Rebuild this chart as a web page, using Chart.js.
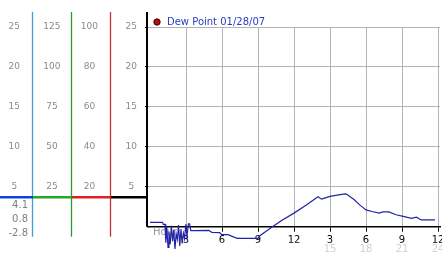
<!DOCTYPE html>
<html>
<head>
<meta charset="utf-8">
<script src="https://cdn.jsdelivr.net/npm/chart.js@4/dist/chart.umd.min.js"></script>
<style>
html, body { margin: 0; padding: 0; background: #fff; }
#wrap { width: 442px; height: 253px; }
</style>
</head>
<body>
<div id="wrap"><canvas id="chart1"></canvas></div>
<script>
"use strict"

// dew point trace: hour of the day -> degrees
const seriesLabel = 'Dew Point 01/28/07'
const hours = [0, 1.05, 1.1, 1.25, 1.32, 1.4, 1.5, 1.58, 1.68, 1.78, 1.88, 1.98, 2.08, 2.18, 2.28,
    2.38, 2.48, 2.58, 2.68, 2.78, 2.88, 2.98, 3.08, 3.2, 3.3, 3.4, 3.6, 4.9, 5.15, 5.8, 6.0, 6.5,
    7.0, 7.3, 9.0, 9.1, 10.2, 11, 12, 13, 14, 14.3, 15, 15.6, 16.25, 16.4, 17.0, 17.5, 18.0, 18.5,
    19.1, 19.4, 19.9, 20.5, 21.1, 21.8, 22.2, 22.6, 23.75]
const dewPoint = [0.55, 0.55, 0.3, 0.3, -2.0, 0.0, -2.6, -0.6, -2.2, 0.1, -1.8, -0.4, -2.8, -0.9, -1.6,
    0.2, -2.4, -0.3, -2.1, -0.8, -1.5, 0.3, -1.2, 0.35, 0.35, -0.5, -0.5, -0.45, -0.7, -0.75, -1.0, -1.0,
    -1.3, -1.45, -1.45, -1.2, 0.0, 0.8, 1.7, 2.7, 3.75, 3.45, 3.8, 3.95, 4.1, 4.05, 3.4, 2.7, 2.1, 1.9,
    1.7, 1.85, 1.85, 1.5, 1.3, 1.05, 1.2, 0.85, 0.85]

// left hand scales, outermost first, then the main one
const scale1Ticks = [5, 10, 15, 20, 25]
const scale2Ticks = [25, 50, 75, 100, 125]
const scale3Ticks = [20, 40, 60, 80, 100]
const mainTicks = [5, 10, 15, 20, 25]
// hour axis
const hourTicks = [3, 6, 9, 12, 15, 18, 21, 24]
const pmTicks = [15, 18, 21, 24]
// max / current / min shown under the marker
const summaryLabels = ['4.1', '0.8', '-2.8']
const markerValue = 3.7

const axisLineColors = { s1: '#3c9fd6', s2: '#2a9a2a', s3: '#c23434', y: '#000' }
const markerColors = { s1: '#1040e0', s2: '#22aa22', s3: '#e02020', y: '#000' }
const tickFont = { family: 'DejaVu Sans', size: 9 }
const greyText = '#8a8a8a'

// draws the long coloured axis lines, the marker bar and the little texts
const axisDecor = {
    id: 'axisDecor',
    beforeDatasetsDraw(chart) {
        const { ctx, chartArea, scales } = chart
        const my = scales.y.getPixelForValue(markerValue)
        ctx.save()
        for (const id of ['s1', 's2', 's3', 'y']) {
            const s = scales[id]
            ctx.strokeStyle = axisLineColors[id]
            ctx.lineWidth = id === 'y' ? 2 : 1.3
            ctx.beginPath()
            const x = s.right - (id === 'y' ? 1 : 0.5)
            ctx.moveTo(x, chartArea.top - 15)
            ctx.lineTo(x, id === 'y' ? chartArea.bottom : chartArea.bottom + 10)
            ctx.stroke()
            // marker bar
            ctx.strokeStyle = markerColors[id]
            ctx.lineWidth = 2.5
            ctx.beginPath()
            ctx.moveTo(s.left, my)
            ctx.lineTo(s.right, my)
            ctx.stroke()
        }
        ctx.fillStyle = '#808080'
        ctx.font = '10px "DejaVu Sans"'
        ctx.textAlign = 'right'
        ctx.textBaseline = 'middle'
        summaryLabels.forEach((t, i) => ctx.fillText(t, scales.s1.right - 5, my + 8 + i * 14))
        ctx.fillStyle = '#999'
        ctx.textAlign = 'left'
        ctx.fillText('Hour', chartArea.left + 5, chartArea.bottom + 6)
        ctx.restore()
    }
}

function sideAxis(ticks, max, weight, width, pad) {
    return {
        type: 'linear', position: 'left', weight: weight,
        min: 0, max: max,
        grid: { display: false, drawTicks: false },
        border: { display: false },
        ticks: { font: tickFont, color: greyText, crossAlign: 'center', padding: pad },
        afterBuildTicks: s => { s.ticks = ticks.map(v => ({ value: v })) },
        afterFit: s => { s.width = width }
    }
}

const ctx = document.getElementById('chart1')
const myChart = new Chart(ctx, {
    type: 'line',
    data: {
        datasets: [{
            label: seriesLabel,
            data: hours.map((h, i) => ({ x: h, y: dewPoint[i] })),
            borderColor: '#2323a8',
            backgroundColor: '#b01010',
            borderWidth: 1.2,
            pointRadius: 0,
            tension: 0,
            clip: false,
            yAxisID: 'y'
        }]
    },
    options: {
        responsive: true,
        maintainAspectRatio: false,
        animation: false,
        layout: { padding: { top: 13, right: 2, left: 0, bottom: 0 } },
        plugins: {
            tooltip: { enabled: false },
            legend: {
                position: 'top', align: 'start', fullSize: false, maxHeight: 14,
                labels: {
                    usePointStyle: true, boxWidth: 10, boxHeight: 4.5, padding: 4,
                    font: { family: 'DejaVu Sans', size: 10 },
                    generateLabels: chart => [{
                        text: seriesLabel, fillStyle: '#b01010', strokeStyle: '#400000',
                        lineWidth: 1, pointStyle: 'circle', fontColor: '#2a3cc0',
                        hidden: false, datasetIndex: 0
                    }]
                }
            }
        },
        scales: {
            x: {
                type: 'linear', position: 'bottom',
                min: -2 / 12, max: 24 + 2 / 12,
                grid: { color: '#b4b4b4', tickColor: '#000', tickLength: 5 },
                border: { color: '#000', width: 1.5 },
                ticks: {
                    font: { family: 'DejaVu Sans', size: 10 }, color: '#000', padding: 3,
                    maxRotation: 0, autoSkip: false,
                    callback: v => String(v % 12 === 0 ? 12 : v % 12)
                },
                afterBuildTicks: s => { s.ticks = hourTicks.map(v => ({ value: v })) },
                afterFit: s => { s.height = 16; s.paddingRight = 0; s.paddingLeft = 0 }
            },
            x2: {
                type: 'linear', position: 'bottom',
                min: -2 / 12, max: 24 + 2 / 12,
                grid: { display: false, drawTicks: false },
                border: { display: false },
                ticks: {
                    font: { family: 'DejaVu Sans', size: 10 }, color: '#d2d2d2', padding: 1,
                    maxRotation: 0, autoSkip: false
                },
                afterBuildTicks: s => { s.ticks = pmTicks.map(v => ({ value: v })) },
                afterFit: s => { s.height = 10.3; s.paddingRight = 0; s.paddingLeft = 0 }
            },
            s1: sideAxis(scale1Ticks, 25, 3, 33, 13),
            s2: sideAxis(scale2Ticks, 125, 2, 39, 11.5),
            s3: sideAxis(scale3Ticks, 100, 1, 39, 13),
            y: {
                type: 'linear', position: 'left', weight: 0,
                min: 0, max: 25,
                grid: { color: '#b4b4b4', tickColor: '#000', tickLength: 3 },
                border: { display: false },
                ticks: { font: tickFont, color: greyText, crossAlign: 'center', padding: 8 },
                afterBuildTicks: s => { s.ticks = mainTicks.map(v => ({ value: v })) },
                afterFit: s => { s.width = 37 }
            }
        }
    },
    plugins: [axisDecor]
})
</script>
</body>
</html>
